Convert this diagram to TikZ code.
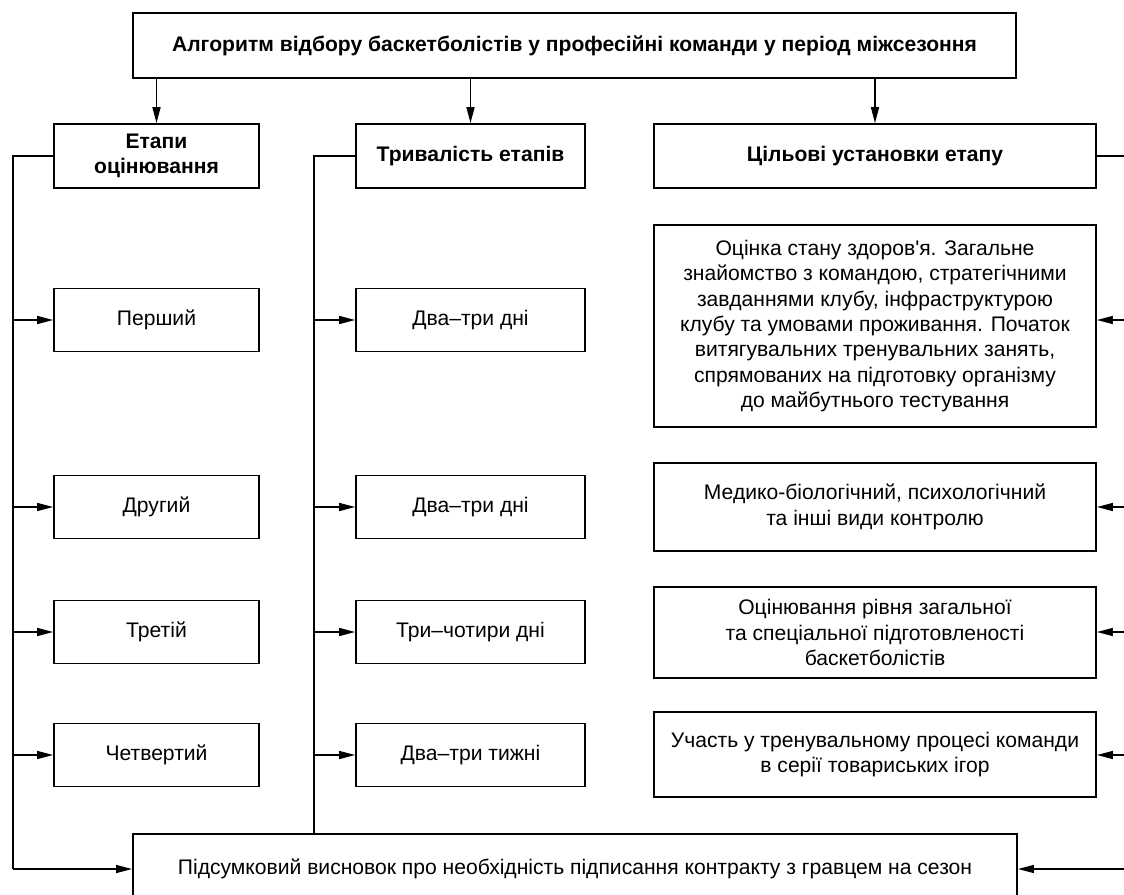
\documentclass[tikz,border=0pt]{standalone}
\usepackage{fontspec}
\setmainfont{Liberation Sans}[Ligatures=TeXOff]
\usepackage{tikz}
\usetikzlibrary{arrows.meta}

\tikzset{
  box/.style={draw, line width=1.2pt, align=center, inner sep=2pt,
    font=\fontsize{15}{18}\selectfont},
  headbox/.style={box, font=\fontsize{15}{18}\selectfont\bfseries},
  arr/.style={line width=1pt, -{Triangle[length=4mm,width=2mm]}},
  bus/.style={line width=1pt}
}

\begin{document}
\begin{tikzpicture}[x=0.025cm, y=-0.025cm]
    \useasboundingbox (0,0) rectangle (1124,894);
    \clip (0,0) rectangle (1124,894);

    \node[headbox, minimum width=22.075cm, minimum height=1.625cm] (top) at (574.5,45.5)
      {Алгоритм відбору баскетболістів у професійні команди у період міжсезоння};

    \node[headbox, minimum width=5.125cm, minimum height=1.6cm] (h1) at (156.5,156) {Етапи\\оцінювання};
    \node[headbox, minimum width=5.725cm, minimum height=1.6cm] (h2) at (470.5,156) {Тривалість етапів};
    \node[headbox, minimum width=11.05cm, minimum height=1.6cm] (h3) at (875,156) {Цільові установки етапу};

    \node[box, minimum width=5.125cm, minimum height=1.575cm] (s1) at (156.5,320) {Перший};
    \node[box, minimum width=5.125cm, minimum height=1.575cm] (s2) at (156.5,507) {Другий};
    \node[box, minimum width=5.125cm, minimum height=1.575cm] (s3) at (156.5,632) {Третій};
    \node[box, minimum width=5.125cm, minimum height=1.575cm] (s4) at (156.5,755) {Четвертий};

    \node[box, minimum width=5.725cm, minimum height=1.575cm] (d1) at (470.5,320) {Два–три дні};
    \node[box, minimum width=5.725cm, minimum height=1.575cm] (d2) at (470.5,507) {Два–три дні};
    \node[box, minimum width=5.725cm, minimum height=1.575cm] (d3) at (470.5,632) {Три–чотири дні};
    \node[box, minimum width=5.725cm, minimum height=1.575cm] (d4) at (470.5,755) {Два–три тижні};

    \node[box, minimum width=11.05cm, minimum height=5.05cm] (g1) at (875,326)
      {Оцінка стану здоров'я. Загальне\\знайомство з командою, стратегічними\\завданнями клубу, інфраструктурою\\клубу та умовами проживання. Початок\\витягувальних тренувальних занять,\\спрямованих на підготовку організму\\до майбутнього тестування};
    \node[box, minimum width=11.05cm, minimum height=2.2cm] (g2) at (875,507)
      {Медико-біологічний, психологічний\\та інші види контролю};
    \node[box, minimum width=11.05cm, minimum height=2.275cm] (g3) at (875,632.5)
      {Оцінювання рівня загальної\\та спеціальної підготовленості\\баскетболістів};
    \node[box, minimum width=11.05cm, minimum height=2.125cm] (g4) at (875,754.5)
      {Участь у тренувальному процесі команди\\в серії товариських ігор};

    \node[box, minimum width=22.1cm, minimum height=1.75cm] (fin) at (575,869)
      {Підсумковий висновок про необхідність підписання контракту з гравцем на сезон};

    \coordinate (lt) at (13,156);
    \coordinate (mt) at (314,156);
    \coordinate (rt) at (1130,156);

    \draw[arr] (top.south -| h1) -- (h1);
    \draw[arr] (top.south -| h2) -- (h2);
    \draw[arr] (top.south -| h3) -- (h3);

    \draw[bus] (h1.west) -- (lt) -- (lt |- fin);
    \draw[arr] (lt |- fin) -- (fin.west);
    \draw[arr] (lt |- s1) -- (s1.west);
    \draw[arr] (lt |- s2) -- (s2.west);
    \draw[arr] (lt |- s3) -- (s3.west);
    \draw[arr] (lt |- s4) -- (s4.west);

    \draw[bus] (h2.west) -- (mt) -- (mt |- fin.north);
    \draw[arr] (mt |- d1) -- (d1.west);
    \draw[arr] (mt |- d2) -- (d2.west);
    \draw[arr] (mt |- d3) -- (d3.west);
    \draw[arr] (mt |- d4) -- (d4.west);

    \draw[bus] (h3.east) -- (rt) -- (rt |- fin);
    \draw[arr] (rt |- fin) -- (fin.east);
    \draw[arr] (rt |- s1) -- (s1 -| g1.east);
    \draw[arr] (rt |- s2) -- (s2 -| g2.east);
    \draw[arr] (rt |- s3) -- (s3 -| g3.east);
    \draw[arr] (rt |- s4) -- (s4 -| g4.east);
\end{tikzpicture}
\end{document}
